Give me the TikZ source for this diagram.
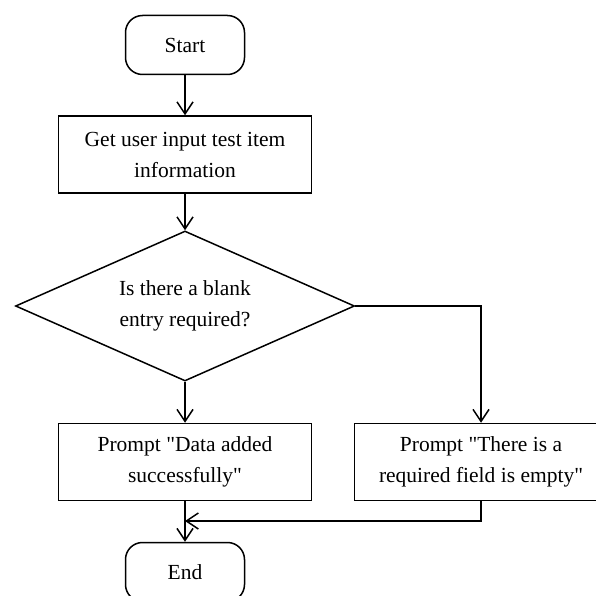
\documentclass[tikz,border=0pt]{standalone}
\usepackage{fontspec}
\setmainfont{Liberation Serif}
\usetikzlibrary{shapes.geometric,arrows.meta,positioning}

\begin{document}
\begin{tikzpicture}[x=1pt,y=1pt,line width=1.5pt,
  font=\fontsize{21.5}{31}\selectfont,
  every node/.style={align=center,inner sep=0pt},
  terminal/.style={draw,rounded corners=17pt,minimum width=119pt,minimum height=59pt},
  process/.style={draw,minimum width=253pt,minimum height=77pt},
  decision/.style={draw,diamond,aspect=2.26,minimum width=339pt,minimum height=150pt},
  flow/.style={-{Straight Barb[length=12pt,width=16pt]}}]
\useasboundingbox (0,0) rectangle (595,-596);
\node[terminal] (start) at (185,-45) {Start};
\node[process] (input) at (185,-154.5) {Get user input test item\\information};
\node[decision] (check) at (185,-306) {Is there a blank\\entry required?};
\node[process] (ok) at (185,-462) {Prompt \textquotedbl Data added\\successfully\textquotedbl};
\node[process] (empty) at (481,-462) {Prompt \textquotedbl There is a\\required field is empty\textquotedbl};
\node[terminal] (end) at (185,-572) {End};
\coordinate (join) at (185,-521);
\draw[flow] (start) -- (input);
\draw[flow] (input) -- (check);
\draw[flow] (check.south) -- (ok.north);
\draw[flow] (check.east) -| (empty.north);
\draw[flow] (ok.south) -- (end.north);
\draw[flow] (empty.south) |- (join);
\end{tikzpicture}
\end{document}
